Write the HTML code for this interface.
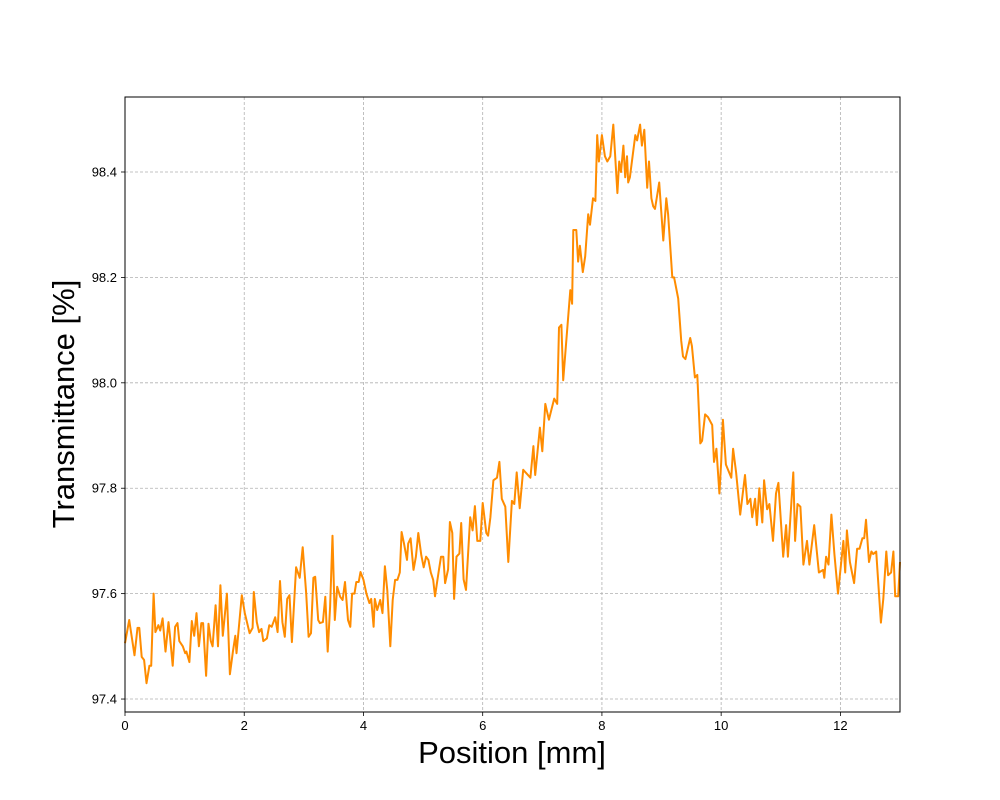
<!DOCTYPE html>
<html><head><meta charset="utf-8"><style>
html,body{margin:0;padding:0;background:#fff;}
svg{display:block;font-family:"Liberation Sans","DejaVu Sans",sans-serif;}
</style></head><body>
<svg id="chart" width="1000" height="800" viewBox="0 0 1000 800" xmlns="http://www.w3.org/2000/svg">
<rect width="1000" height="800" fill="#fff"/>
<g id="grid"></g>
<g id="ticks"></g>
<path id="series" fill="none" stroke="#ff8c00" stroke-width="2" stroke-linejoin="round"/>
<rect x="125" y="97" width="775" height="615" fill="none" stroke="#000" stroke-width="1"/>
<text x="512" y="763" font-size="31" text-anchor="middle">Position [mm]</text>
<text transform="translate(74,404) rotate(-90)" font-size="31" text-anchor="middle">Transmittance [%]</text>
</svg>
<script>
const xTicks=[0,2,4,6,8,10,12];
const yTicks=[97.4,97.6,97.8,98.0,98.2,98.4];
const yTickLabels=["97.4","97.6","97.8","98.0","98.2","98.4"];
const positions=[0,.07,.16,.21,.24,.28,.32,.36,.41,.44,.48,.51,.56,.59,.63,.68,.73,.75,.80,.84,.88,.91,.97,1.01,1.03,1.08,1.12,1.16,1.20,1.24,1.28,1.31,1.36,1.40,1.44,1.47,1.52,1.56,1.60,1.64,1.71,1.76,1.81,1.85,1.87,1.96,2.01,2.09,2.14,2.16,2.21,2.25,2.29,2.32,2.38,2.42,2.46,2.52,2.56,2.60,2.64,2.68,2.72,2.76,2.80,2.87,2.93,2.98,3.04,3.08,3.12,3.16,3.19,3.24,3.27,3.32,3.36,3.40,3.44,3.48,3.52,3.56,3.61,3.65,3.69,3.74,3.78,3.81,3.85,3.88,3.92,3.95,4.00,4.05,4.10,4.13,4.17,4.19,4.23,4.28,4.32,4.36,4.40,4.45,4.49,4.53,4.57,4.61,4.64,4.68,4.73,4.75,4.79,4.84,4.88,4.92,4.97,5.01,5.05,5.09,5.13,5.17,5.20,5.26,5.30,5.34,5.37,5.42,5.45,5.49,5.52,5.56,5.61,5.64,5.68,5.72,5.76,5.79,5.83,5.87,5.91,5.96,6.00,6.06,6.09,6.13,6.18,6.24,6.28,6.32,6.38,6.43,6.49,6.53,6.57,6.62,6.68,6.80,6.85,6.88,6.96,7.00,7.05,7.11,7.20,7.25,7.28,7.32,7.35,7.47,7.50,7.52,7.57,7.60,7.63,7.68,7.72,7.77,7.80,7.85,7.89,7.92,7.95,8.00,8.05,8.09,8.14,8.19,8.26,8.29,8.32,8.36,8.39,8.42,8.44,8.47,8.56,8.59,8.64,8.67,8.71,8.76,8.79,8.83,8.86,8.89,8.96,9.03,9.08,9.11,9.18,9.21,9.28,9.33,9.36,9.40,9.45,9.48,9.51,9.56,9.60,9.65,9.68,9.73,9.78,9.85,9.88,9.92,9.97,10.00,10.03,10.08,10.17,10.20,10.25,10.32,10.40,10.44,10.49,10.52,10.57,10.60,10.64,10.69,10.72,10.77,10.81,10.87,10.92,10.96,11.04,11.09,11.12,11.21,11.24,11.28,11.33,11.38,11.44,11.48,11.56,11.64,11.71,11.73,11.76,11.80,11.85,11.90,11.96,12.05,12.08,12.11,12.16,12.23,12.28,12.32,12.37,12.40,12.43,12.48,12.52,12.55,12.60,12.68,12.72,12.77,12.80,12.85,12.89,12.92,12.97,13.00];
const transmittance=[97.506,97.55,97.483,97.535,97.535,97.48,97.474,97.43,97.463,97.463,97.60,97.527,97.54,97.53,97.553,97.49,97.546,97.525,97.463,97.537,97.544,97.51,97.50,97.487,97.49,97.47,97.548,97.52,97.563,97.50,97.544,97.544,97.444,97.543,97.51,97.50,97.578,97.50,97.616,97.52,97.60,97.447,97.49,97.52,97.487,97.597,97.563,97.525,97.535,97.603,97.546,97.527,97.533,97.51,97.515,97.54,97.537,97.555,97.527,97.624,97.546,97.518,97.59,97.597,97.508,97.65,97.63,97.688,97.60,97.518,97.525,97.63,97.632,97.55,97.544,97.546,97.594,97.49,97.575,97.71,97.55,97.613,97.594,97.588,97.622,97.55,97.537,97.60,97.60,97.622,97.622,97.641,97.626,97.60,97.582,97.59,97.537,97.59,97.569,97.588,97.563,97.652,97.606,97.50,97.588,97.626,97.626,97.64,97.717,97.695,97.664,97.695,97.705,97.645,97.67,97.715,97.673,97.65,97.67,97.664,97.64,97.626,97.595,97.641,97.67,97.67,97.62,97.646,97.736,97.715,97.59,97.67,97.676,97.734,97.627,97.607,97.686,97.745,97.72,97.766,97.70,97.70,97.772,97.715,97.71,97.745,97.815,97.82,97.85,97.78,97.765,97.66,97.776,97.77,97.83,97.762,97.835,97.82,97.88,97.825,97.915,97.87,97.96,97.93,97.97,97.96,98.105,98.11,98.005,98.176,98.15,98.29,98.29,98.23,98.26,98.21,98.24,98.32,98.30,98.35,98.345,98.47,98.42,98.47,98.43,98.42,98.43,98.49,98.36,98.42,98.40,98.45,98.39,98.43,98.38,98.39,98.47,98.46,98.49,98.45,98.48,98.37,98.42,98.35,98.335,98.33,98.38,98.27,98.35,98.32,98.20,98.20,98.16,98.08,98.05,98.045,98.07,98.085,98.07,98.01,98.015,97.885,97.89,97.94,97.935,97.92,97.85,97.875,97.79,97.85,97.93,97.845,97.82,97.875,97.83,97.75,97.825,97.77,97.78,97.745,97.78,97.73,97.80,97.735,97.815,97.76,97.77,97.70,97.79,97.81,97.67,97.73,97.67,97.83,97.70,97.77,97.765,97.655,97.70,97.655,97.73,97.64,97.645,97.63,97.67,97.655,97.75,97.675,97.60,97.70,97.64,97.72,97.66,97.62,97.685,97.685,97.705,97.705,97.74,97.66,97.68,97.675,97.68,97.545,97.59,97.68,97.635,97.64,97.68,97.595,97.595,97.66];

const L=125,R=900,T=97,B=712;
const xMin=0,xMax=13,yMin=97.3754,yMax=98.5423;
function sx(v){return L+(v-xMin)/(xMax-xMin)*(R-L);}
function sy(v){return B-(v-yMin)/(yMax-yMin)*(B-T);}
const NS="http://www.w3.org/2000/svg";
const grid=document.getElementById('grid'),ticks=document.getElementById('ticks');
function mk(tag,attrs,parent){const e=document.createElementNS(NS,tag);for(const k in attrs)e.setAttribute(k,attrs[k]);parent.appendChild(e);return e;}
xTicks.forEach(v=>{
  const x=sx(v);
  const g=mk('line',{x1:x,x2:x,y1:T,y2:B,stroke:'#b0b0b0','stroke-width':0.8,'stroke-dasharray':'3,2'},grid);
  
  
  const t=mk('line',{x1:x,x2:x,y1:B,y2:B+4,stroke:'#000','stroke-width':0.8},ticks);
  
  
  const l=mk('text',{x:x,y:B+18,'font-size':13,'text-anchor':'middle'},ticks);
  l.textContent=String(v);
  
  
});
yTicks.forEach((v,i)=>{
  const y=sy(v);
  const g=mk('line',{x1:L,x2:R,y1:y,y2:y,stroke:'#b0b0b0','stroke-width':0.8,'stroke-dasharray':'3,2'},grid);
  
  
  const t=mk('line',{x1:L-4,x2:L,y1:y,y2:y,stroke:'#000','stroke-width':0.8},ticks);
  
  
  const l=mk('text',{x:L-8,y:y+4.5,'font-size':13,'text-anchor':'end'},ticks);
  l.textContent=yTickLabels[i];
  
  
});
let d='';
positions.forEach((p,i)=>{d+=(i?'L':'M')+sx(p).toFixed(1)+','+sy(transmittance[i]).toFixed(1);});
document.getElementById('series').setAttribute('d',d);
</script>
</body></html>
